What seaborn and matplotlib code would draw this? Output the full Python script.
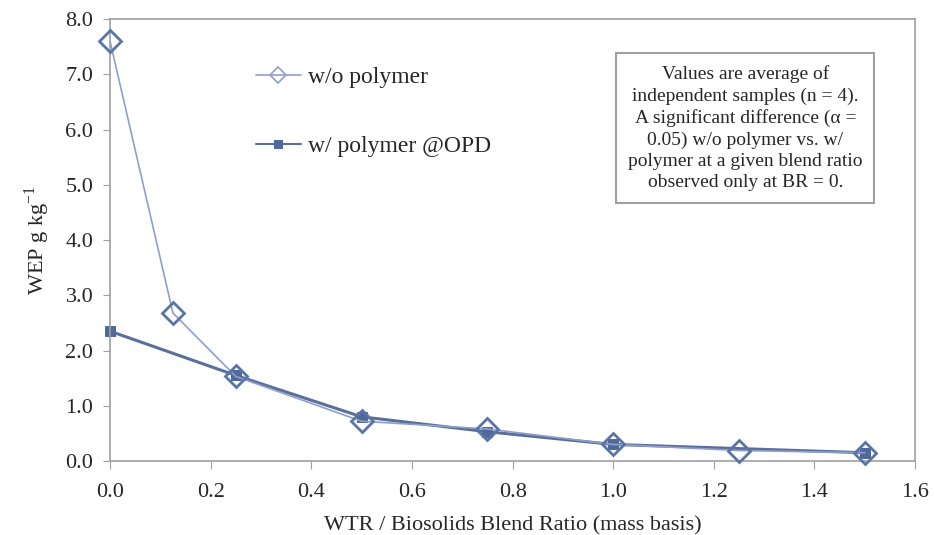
import matplotlib
matplotlib.use("Agg")
import matplotlib.pyplot as plt
import seaborn as sns
import pandas as pd

# Data
ratio_wo = [0.0, 0.125, 0.25, 0.5, 0.75, 1.0, 1.25, 1.5]
wep_wo = [7.60, 2.68, 1.53, 0.72, 0.58, 0.30, 0.19, 0.15]
ratio_w = [0.0, 0.25, 0.5, 0.75, 1.0, 1.5]
wep_w = [2.35, 1.55, 0.80, 0.53, 0.30, 0.15]
label_wo = "w/o polymer"
label_w = "w/ polymer @OPD"
x_ticks = [0.0, 0.2, 0.4, 0.6, 0.8, 1.0, 1.2, 1.4, 1.6]
y_ticks = [0.0, 1.0, 2.0, 3.0, 4.0, 5.0, 6.0, 7.0, 8.0]

df_wo = pd.DataFrame({"x": ratio_wo, "y": wep_wo})
df_w = pd.DataFrame({"x": ratio_w, "y": wep_w})

sns.set_style("white")
plt.rcParams["font.family"] = ["Liberation Serif", "DejaVu Serif"]
plt.rcParams["mathtext.fontset"] = "custom"
plt.rcParams["mathtext.rm"] = "Liberation Serif"

fig = plt.figure(figsize=(9.34, 5.35), dpi=100)
ax = fig.add_axes([0.1178, 0.1383, 0.862, 0.826])

sns.lineplot(data=df_w, x="x", y="y", ax=ax, color="#5a6f99", linewidth=2.2,
             marker="s", markersize=7, markerfacecolor="#51699a",
             markeredgecolor="#51699a", label=label_w, zorder=2, clip_on=False)
sns.lineplot(data=df_wo, x="x", y="y", ax=ax, color="#8f9fcb", linewidth=1.2,
             marker="D", markersize=11, markerfacecolor="none",
             markeredgecolor="#5b74a6", markeredgewidth=2.0,
             label=label_wo, zorder=3, clip_on=False)

ax.set_xlim(0, 1.6)
ax.set_ylim(0, 8.0)
ax.set_xticks(x_ticks)
ax.set_yticks(y_ticks)
ax.set_xticklabels([f"{v:.1f}" for v in x_ticks], fontsize=16)
ax.set_yticklabels([f"{v:.1f}" for v in y_ticks], fontsize=16)
ax.set_xlabel("WTR / Biosolids Blend Ratio (mass basis)", fontsize=16, labelpad=10)
ax.set_ylabel("WEP g kg$^{\\mathregular{-1}}$", fontsize=16, labelpad=10)

for s in ax.spines.values():
    s.set_color("#a0a0a0")
    s.set_linewidth(1.2)
ax.tick_params(axis="x", direction="out", length=6, color="#a0a0a0",
               bottom=True, pad=10)
ax.tick_params(axis="y", direction="out", length=5, color="#a0a0a0",
               left=True, pad=7)

handles, labels = ax.get_legend_handles_labels()
order = [labels.index(label_wo), labels.index(label_w)]
leg = ax.legend([handles[i] for i in order], [labels[i] for i in order],
                loc="upper left", bbox_to_anchor=(0.155, 0.94), frameon=False,
                fontsize=17, labelspacing=2.0, handlelength=1.9,
                handletextpad=0.3)
lh = leg.legend_handles
lh[0].set_markersize(8)
lh[0].set_markeredgewidth(1.2)
lh[0].set_markeredgecolor("#8f9fcb")
lh[1].set_markersize(6)
lh[1].set_linewidth(1.5)

ax.text(0.789, 0.753,
        "Values are average of\nindependent samples (n = 4).\nA significant difference (\u03b1 =\n0.05) w/o polymer vs. w/\npolymer at a given blend ratio\nobserved only at BR = 0.",
        transform=ax.transAxes, ha="center", va="center", fontsize=14,
        linespacing=1.33,
        bbox=dict(boxstyle="square,pad=0.6", facecolor="white",
                  edgecolor="#a0a0a0", linewidth=1.5))

fig.savefig("out.png", dpi=100)
